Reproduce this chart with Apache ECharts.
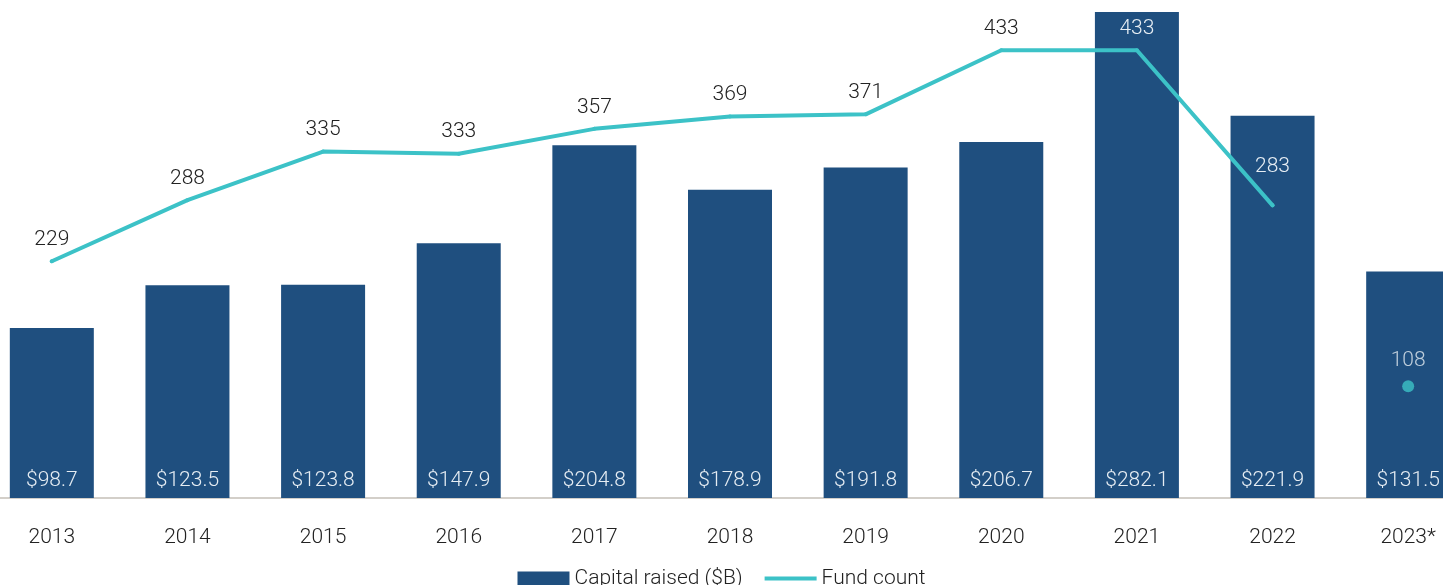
<!DOCTYPE html>
<html>
<head>
<meta charset="utf-8">
<script src="https://cdn.jsdelivr.net/npm/echarts@6/dist/echarts.min.js"></script>
<style>
  html, body { margin: 0; padding: 0; background: #fff; }
  #main { width: 1443px; height: 585px; }
</style>
</head>
<body>
<div id="main"></div>
<script>
// 数据
var years = ["2013", "2014", "2015", "2016", "2017", "2018", "2019", "2020", "2021", "2022", "2023*"];
var capitalRaised = [98.7, 123.5, 123.8, 147.9, 204.8, 178.9, 191.8, 206.7, 282.1, 221.9, 131.5];
var fundCount = [229, 288, 335, 333, 357, 369, 371, 433, 433, 283, "-"];
var fundCount2023 = ["-", "-", "-", "-", "-", "-", "-", "-", "-", "-", 108];
// 落在柱子上的数字用白色
var onBar = ["2021", "2022", "2023*"];

var FONT = '"Roboto", sans-serif';
var FW = 300;
var FS = 21;
var NAVY = "#1f4f7f";
var TEAL = "#3cc2c7";
var LIGHT = "#e6edf3";

function lineLabel(v, i) {
  var lab = { color: onBar.indexOf(years[i]) > -1 ? LIGHT : "#222" };
  // 2022 的标签避开折线，往上挪
  if (years[i] === "2022") lab.distance = 26;
  return { value: v, label: lab };
}

var myChart = echarts.init(document.getElementById("main"));
var option = {
  animation: false,
  textStyle: { fontFamily: FONT, fontWeight: FW },
  grid: {
    left: -16,
    width: 1492,
    top: 12,
    bottom: 87,
    outerBoundsMode: "none",
    containLabel: false
  },
  legend: {
    top: 563,
    left: "center",
    itemWidth: 52,
    itemHeight: 14,
    itemGap: 22,
    textStyle: { fontFamily: FONT, fontWeight: FW, fontSize: FS, color: "#222" },
    data: [
      { name: "Capital raised ($B)", icon: "rect" },
      { name: "Fund count", icon: "path://M0,0 L52,0 L52,4 L0,4 Z" }
    ]
  },
  xAxis: {
    type: "category",
    data: years,
    axisTick: { show: false },
    axisLine: { lineStyle: { color: "#d3cfc9", width: 2 } },
    axisLabel: { fontFamily: FONT, fontWeight: FW, fontSize: FS, color: "#222", margin: 29 }
  },
  yAxis: [
    { type: "value", min: 0, max: 282.1, show: false, splitLine: { show: false } },
    { type: "value", min: 0, max: 470, show: false, splitLine: { show: false } }
  ],
  series: [
    {
      name: "Capital raised ($B)",
      type: "bar",
      barWidth: 84,
      yAxisIndex: 0,
      itemStyle: { color: NAVY },
      label: {
        show: true,
        position: "insideBottom",
        distance: 7,
        fontFamily: FONT,
        fontWeight: FW,
        fontSize: FS,
        color: LIGHT,
        formatter: function (p) { return "$" + p.value.toFixed(1); }
      },
      data: capitalRaised
    },
    {
      name: "Fund count",
      type: "line",
      yAxisIndex: 1,
      symbol: "circle",
      symbolSize: 4,
      itemStyle: { color: TEAL },
      lineStyle: { color: TEAL, width: 4, cap: "round" },
      label: {
        show: true,
        position: "top",
        distance: 9,
        fontFamily: FONT,
        fontWeight: FW,
        fontSize: FS
      },
      data: fundCount.map(lineLabel)
    },
    {
      name: "Fund count 2023",
      type: "scatter",
      yAxisIndex: 1,
      symbolSize: 12,
      itemStyle: { color: TEAL },
      label: {
        show: true,
        position: "top",
        distance: 9,
        fontFamily: FONT,
        fontWeight: FW,
        fontSize: FS,
        color: LIGHT
      },
      data: fundCount2023
    }
  ]
};
myChart.setOption(option);
</script>
</body>
</html>
